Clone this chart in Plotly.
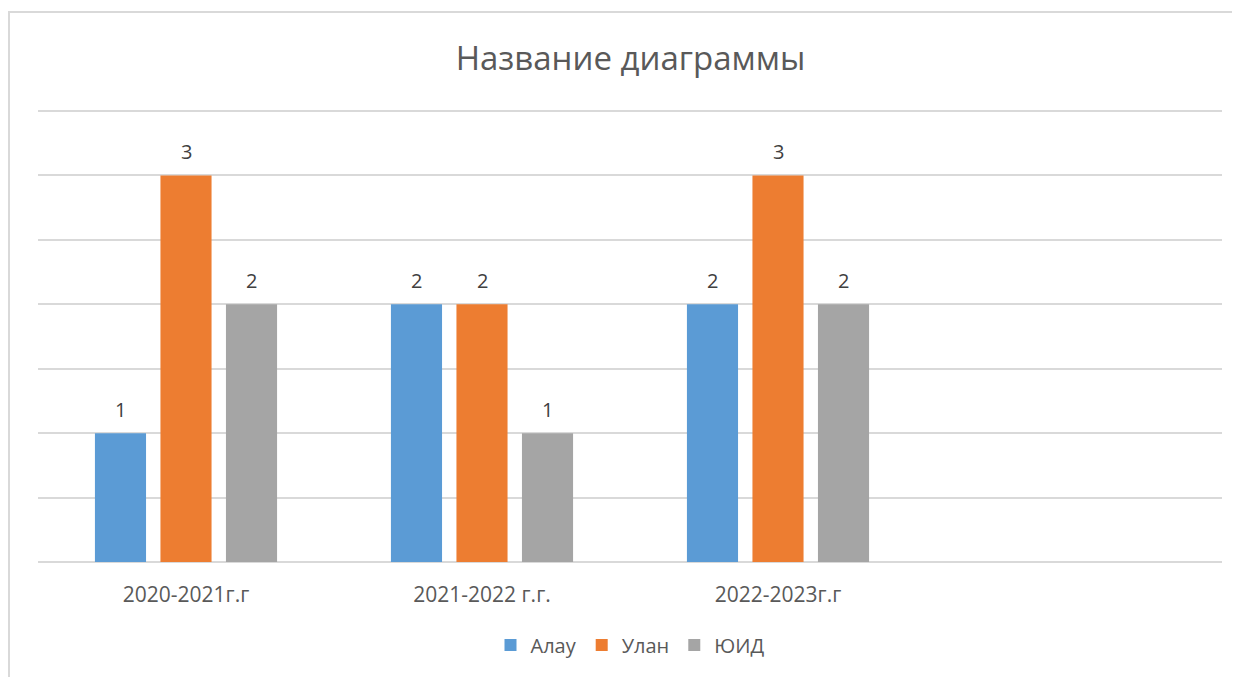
import plotly.graph_objects as go

categories = ["2020-2021г.г", "2021-2022 г.г.", "2022-2023г.г", " "]
alau = [1, 2, 2, None]
ulan = [3, 2, 3, None]
yuid = [2, 1, 2, None]

series = [("Алау", alau, "#5B9BD5"), ("Улан", ulan, "#ED7D31"), ("ЮИД", yuid, "#A5A5A5")]

# page body has an 8px margin; layout is shifted to compensate
L, T = 30, 100
PW, PH = 1184, 454
R = 1240 - L - PW
B = 677 - T - PH
ZERO_Y = T + PH
YMAX = 3.5 * PH / 451

BARGAP, GROUPGAP = 0.336, 0.22
slot = PW / len(categories) * (1 - BARGAP) / len(series)

fig = go.Figure()
annotations = []
for i, (name, vals, color) in enumerate(series):
    fig.add_trace(go.Bar(
        x=categories, y=vals, name=name, marker=dict(color=color, line=dict(width=0)),
    ))
    for c, v in zip(categories, vals):
        if v is None:
            continue
        annotations.append(dict(
            x=c, y=v, xref="x", yref="y", text=str(v), showarrow=False,
            xshift=(i - 1) * slot, yshift=24, yanchor="middle",
            font=dict(size=20, color="#404040", family="Open Sans"),
        ))

fig.update_layout(
    width=1240, height=677,
    margin=dict(l=L, r=R, t=T, b=B),
    paper_bgcolor="white", plot_bgcolor="white",
    barmode="group", bargap=BARGAP, bargroupgap=GROUPGAP,
    font=dict(family="Open Sans", color="#595959", size=20),
    title=dict(text="Название диаграммы", x=0.502, xanchor="center", y=1 - 50 / 677, yanchor="middle",
               font=dict(size=33, color="#595959", family="Open Sans")),
    showlegend=True,
    legend=dict(orientation="h", x=0.5, xanchor="center", y=(ZERO_Y - 637) / PH, yanchor="middle",
                font=dict(size=20, color="#595959"), traceorder="normal", itemwidth=30),
    xaxis=dict(type="category", categoryorder="array", categoryarray=categories,
               showgrid=False, showline=False, zeroline=False, ticks="",
               ticklabelstandoff=18, tickfont=dict(size=21, color="#595959")),
    yaxis=dict(range=[0, YMAX], tickmode="linear", tick0=0, dtick=0.5, showticklabels=False, showgrid=True,
               gridcolor="#D9D9D9", gridwidth=1.5, zeroline=True, zerolinecolor="#D9D9D9",
               zerolinewidth=1.5, showline=False),
    annotations=annotations,
)

fig.add_shape(type="rect", xref="paper", yref="paper",
              x0=(1 - L) / PW, x1=(1260 - L) / PW, y0=(ZERO_Y - 700) / PH, y1=(ZERO_Y - 4) / PH,
              line=dict(color="#D9D9D9", width=2), fillcolor="rgba(0,0,0,0)", layer="below")

fig.write_html("out.html")
